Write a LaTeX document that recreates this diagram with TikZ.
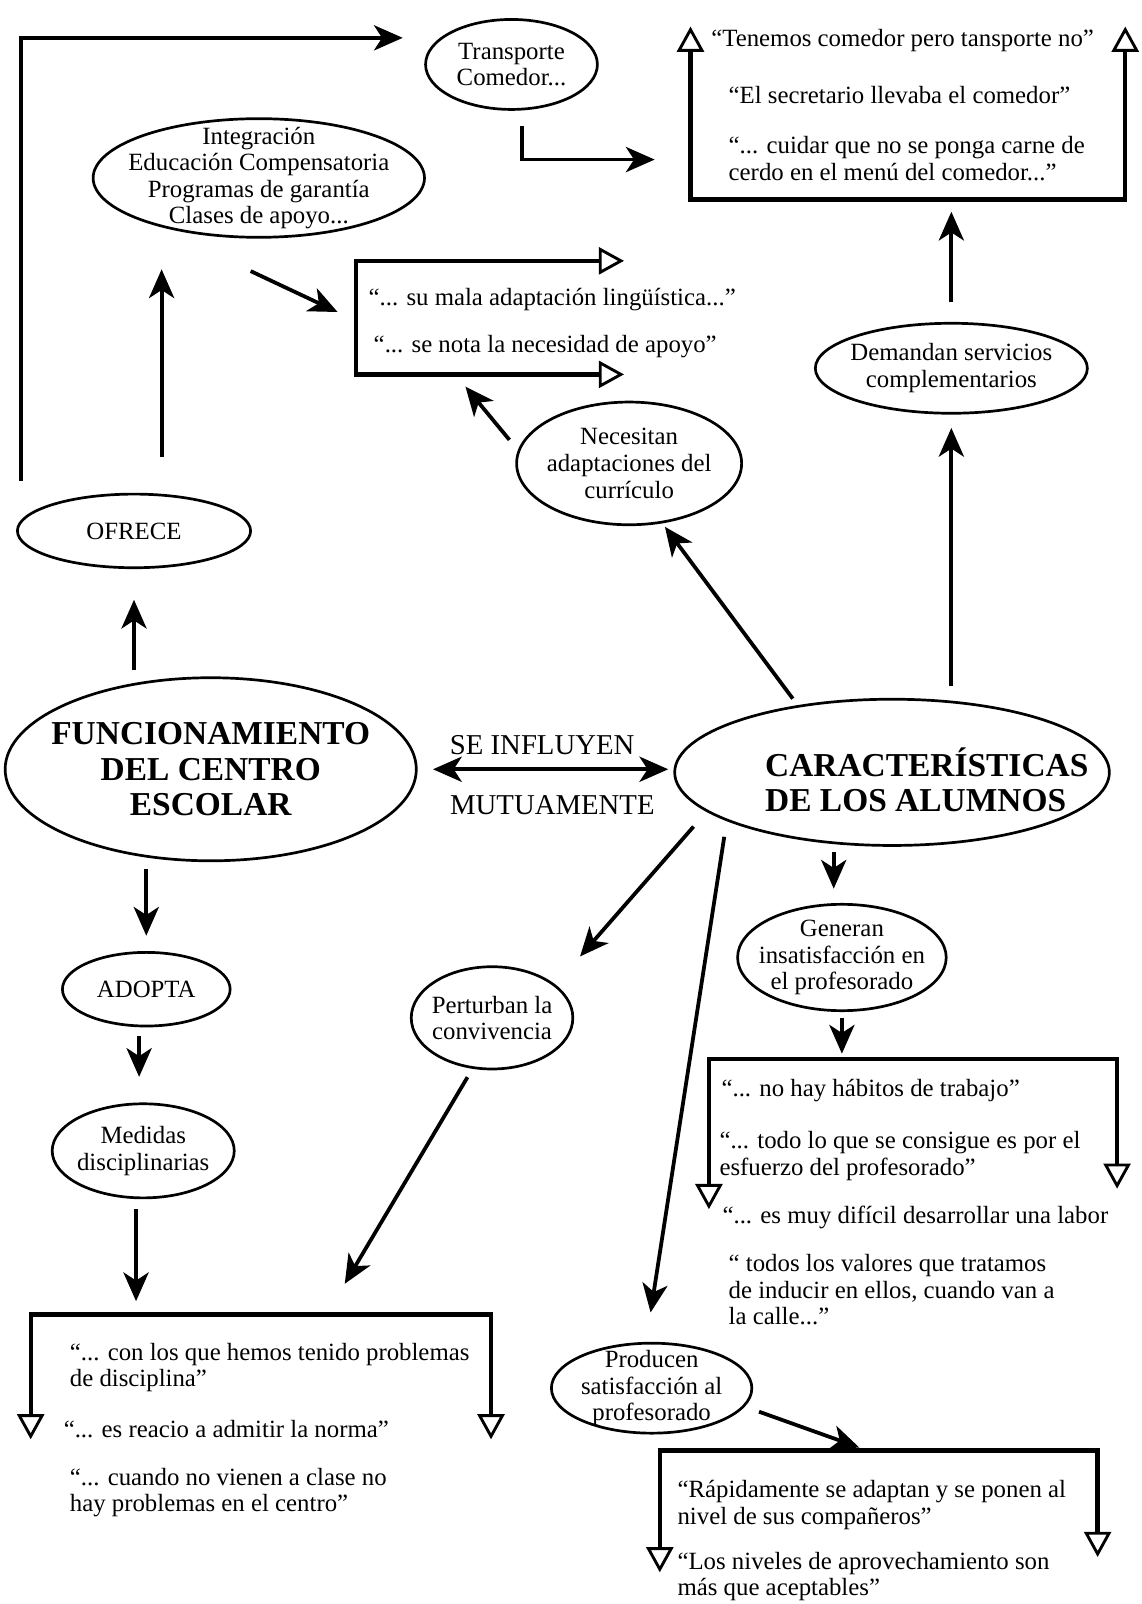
\documentclass[tikz,border=0pt]{standalone}
\usepackage{fontspec}
\setmainfont{Liberation Serif}
\usetikzlibrary{arrows.meta,shapes.geometric,calc}

\newcommand{\qfont}{\fontsize{13.8}{14.8}\selectfont}
\newcommand{\lfont}{\fontsize{16}{18}\selectfont}
\newcommand{\hfont}{\fontsize{18.6}{19.6}\selectfont\bfseries}

\tikzset{
  bubble/.style 2 args={draw, ellipse, line width=1.5pt, inner sep=-2cm,
    minimum width=#1, minimum height=#2, align=center, font=\qfont},
  quote/.style={anchor=west, align=left, inner sep=0pt, font=\qfont},
  arr/.style={line width=2.1pt, -{Stealth[length=16pt,width=14pt,inset=4.5pt]}},
  arrboth/.style={line width=2.1pt, {Stealth[length=16pt,width=14pt,inset=4.5pt]}-{Stealth[length=16pt,width=14pt,inset=4.5pt]}},
  bracket/.style={line width=2.4pt,
    {Triangle[open,length=14pt,width=15pt,line width=1.6pt]}-{Triangle[open,length=14pt,width=15pt,line width=1.6pt]}},
}

\begin{document}
\begin{tikzpicture}[x=0.02cm,y=-0.02cm]
  \useasboundingbox (0,0) rectangle (1116,1568);

  % bubbles
  \node[bubble={3.36cm}{1.76cm}] (transp) at (500,63) {Transporte\\Comedor...};
  \node[bubble={6.48cm}{2.32cm}] (integ) at (253,174) {Integración\\Educación Compensatoria\\Programas de garantía\\Clases de apoyo...};
  \node[bubble={4.56cm}{1.44cm}] (ofrece) at (131,519) {OFRECE};
  \node[bubble={4.4cm}{2.4cm}] (necesit) at (615,453) {Necesitan\\adaptaciones del\\currículo};
  \node[bubble={5.32cm}{1.76cm}] (demand) at (930,360) {Demandan servicios\\complementarios};
  \node[bubble={8.04cm}{3.58cm}, font=\hfont] (func) at (206,752) {FUNCIONAMIENTO\\DEL CENTRO\\ESCOLAR};
  \node[bubble={8.5cm}{2.86cm}] (caract) at (872,755) {};
  \node[font=\hfont, align=left] (caracttxt) at ($(caract)+(34,7)$) {CARACTERÍSTICAS\\DE LOS ALUMNOS};
  \node[bubble={4.08cm}{2.08cm}] (generan) at (823,936) {Generan\\insatisfacción en\\el profesorado};
  \node[bubble={3.16cm}{2cm}] (perturb) at (481,995) {Perturban la\\convivencia};
  \node[bubble={3.92cm}{1.76cm}] (producen) at (637,1357) {Producen\\satisfacción al\\profesorado};
  \node[bubble={3.28cm}{1.44cm}] (adopta) at (143,967) {ADOPTA};
  \node[bubble={3.56cm}{1.84cm}] (medidas) at (140,1125) {Medidas\\disciplinarias};

  \node[font=\lfont] (seinfl) at (530,728) {SE INFLUYEN};
  \node[font=\lfont] (mutua) at (540,787) {MUTUAMENTE};

  % quotes
  \node[quote] (q1) at (695,40) {“Tenemos comedor pero tansporte no”};
  \node[quote] (q2) at (712,93) {“El secretario llevaba el comedor”};
  \node[quote] (q3) at (712,155) {“... cuidar que no se ponga carne de\\cerdo en el menú del comedor...”};
  \node[quote] (q4) at (360,293) {“... su mala adaptación lingüística...”};
  \node[quote] (q5) at (365,339) {“... se nota la necesidad de apoyo”};
  \node[quote] (q6) at (705,1066) {“... no hay hábitos de trabajo”};
  \node[quote] (q7) at (703,1130) {“... todo lo que se consigue es por el\\esfuerzo del profesorado”};
  \node[quote] (q8) at (706,1190) {“... es muy difícil desarrollar una labor};
  \node[quote] (q9) at (712,1261) {“ todos los valores que tratamos\\de inducir en ellos, cuando van a\\la calle...”};
  \node[quote] (q10) at (68,1337) {“... con los que hemos tenido problemas\\de disciplina”};
  \node[quote] (q11) at (62,1397) {“... es reacio a admitir la norma”};
  \node[quote] (q12) at (68,1459) {“... cuando no vienen a clase no\\hay problemas en el centro”};
  \node[quote] (q13) at (662,1471) {“Rápidamente se adaptan y se ponen al\\nivel de sus compañeros”};
  \node[quote] (q14) at (662,1541) {“Los niveles de aprovechamiento son\\más que aceptables”};

  % corners of the quote frames
  \coordinate (trbox) at (675,195);
  \coordinate (midbox) at (348,255);
  \coordinate (rmbox) at (693,1035);
  \coordinate (blbox) at (30,1285);
  \coordinate (brbox) at (645,1418);

  \draw[bracket] (675,26) -- (trbox) -- (1100,195) -- (1100,26);
  \draw[bracket] (610,255) -- (midbox) -- (348,366) -- (610,366);
  \draw[bracket] (693,1182) -- (rmbox) -- (1092,1035) -- (1092,1162);
  \draw[bracket] (30,1407) -- (blbox) -- (480,1285) -- (480,1407);
  \draw[bracket] (645,1537) -- (brbox) -- (1073,1418) -- (1073,1522);

  % loose ends of the slanted arrows
  \coordinate (trin) at (640,156);
  \coordinate (integout) at (245,265);
  \coordinate (midin) at (330,305);
  \coordinate (necout) at (498,430);
  \coordinate (midbot) at (455,378);
  \coordinate (carnec) at (775,683);
  \coordinate (necin) at (650,515);
  \coordinate (carper) at (678,808);
  \coordinate (perin) at (567,935);
  \coordinate (perout) at (457,1053);
  \coordinate (blin) at (337,1255);
  \coordinate (carpro) at (708,818);
  \coordinate (proin) at (636,1283);
  \coordinate (proout) at (742,1380);
  \coordinate (brin) at (840,1415);

  % arrows
  \draw[arr, shorten <=0.98cm, shorten >=0.42cm] ([xshift=0.1cm]ofrece.west) |- ([yshift=0.52cm]transp.west);
  \draw[arr, shorten <=0.3cm] ([xshift=0.2cm]transp.south) |- (trin);
  \draw[arr, shorten <=0.7cm, shorten >=0.6cm] ([xshift=0.54cm]ofrece.north) -- ([xshift=0.54cm]ofrece.north |- integ.south);
  \draw[arr] (integout) -- (midin);
  \draw[arr] (necout) -- (midbot);
  \draw[arr, shorten <=0.38cm, shorten >=0.24cm] (demand.north) -- (demand.north |- trbox);
  \draw[arr, shorten <=0.23cm, shorten >=0.26cm] (caract.north -| demand) -- (demand.south);
  \draw[arr] (carnec) -- (necin);
  \draw[arr, shorten <=0.12cm, shorten >=0.6cm] (func.north -| ofrece) -- (ofrece.south);
  \draw[arrboth, shorten <=0.3cm, shorten >=0.1cm] (func.east) -- (func.east -| caract.west);
  \draw[arr, shorten <=0.11cm, shorten >=0.28cm] ([xshift=-0.16cm]generan.north |- caract.south) -- ([xshift=-0.16cm]generan.north);
  \draw[arr, shorten <=0.12cm, shorten >=0.1cm] (generan.south) -- (generan.south |- rmbox);
  \draw[arr] (carper) -- (perin);
  \draw[arr] (perout) -- (blin);
  \draw[arr] (carpro) -- (proin);
  \draw[arr] (proout) -- (brin);
  \draw[arr, shorten <=0.13cm, shorten >=0.3cm] (adopta.north |- func.south) -- (adopta.north);
  \draw[arr, shorten <=0.16cm, shorten >=0.5cm] ([xshift=-0.14cm]adopta.south) -- ([xshift=-0.14cm]adopta.south |- medidas.north);
  \draw[arr, shorten <=0.2cm, shorten >=0.26cm] ([xshift=-0.14cm]medidas.south) -- ([xshift=-0.14cm]medidas.south |- blbox);
\end{tikzpicture}
\end{document}
